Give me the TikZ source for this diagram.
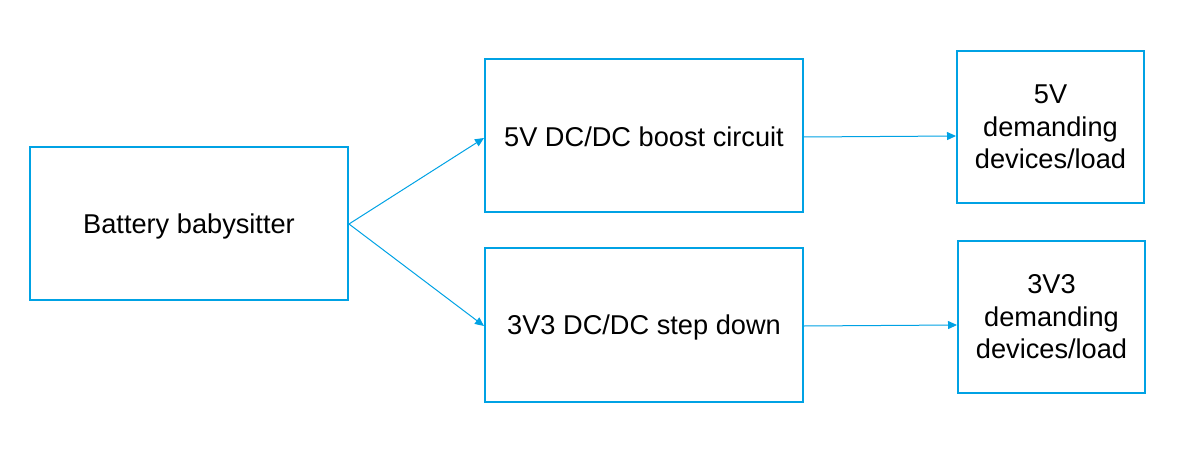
\documentclass[tikz,border=0pt]{standalone}
\usepackage{fontspec}
\setmainfont{Liberation Sans}
\usetikzlibrary{arrows.meta}
\definecolor{cblue}{RGB}{0,162,228}
\begin{document}
\begin{tikzpicture}[x=1pt,y=-1pt,
  blk/.style={draw=cblue,line width=2pt,inner sep=0pt,align=center,
    font=\fontsize{27.2}{32.5}\selectfont},
  conn/.style={draw=cblue,line width=1pt,-{Triangle[length=9pt,width=8pt]}}]
\useasboundingbox (0,0) rectangle (1201,449);
\node[blk,minimum width=318pt,minimum height=153pt] (bat) at (189,223.5) {\raisebox{-2.5pt}[\height][\depth]{Battery babysitter}};
\node[blk,minimum width=318pt,minimum height=153pt] (boost) at (644,135.5) {\raisebox{-1pt}[\height][\depth]{5V DC/DC boost circuit}};
\node[blk,minimum width=318pt,minimum height=154pt] (step) at (644,325) {\raisebox{-2pt}[\height][\depth]{3V3 DC/DC step down}};
\node[blk,minimum width=187pt,minimum height=152pt] (l5) at (1050.5,127) {5V\\demanding\\devices/load};
\node[blk,minimum width=187pt,minimum height=152pt] (l3) at (1051.5,317) {3V3\\demanding\\devices/load};
\coordinate (bo) at (349,224);
\draw[conn] (bo) -- (boost.west |- 0,138);
\draw[conn] (bo) -- (step.west |- 0,326);
\draw[conn] (boost.east |- 0,137) -- (l5.west |- 0,136);
\draw[conn] (step.east |- 0,326) -- (l3.west |- 0,325);
\end{tikzpicture}
\end{document}
